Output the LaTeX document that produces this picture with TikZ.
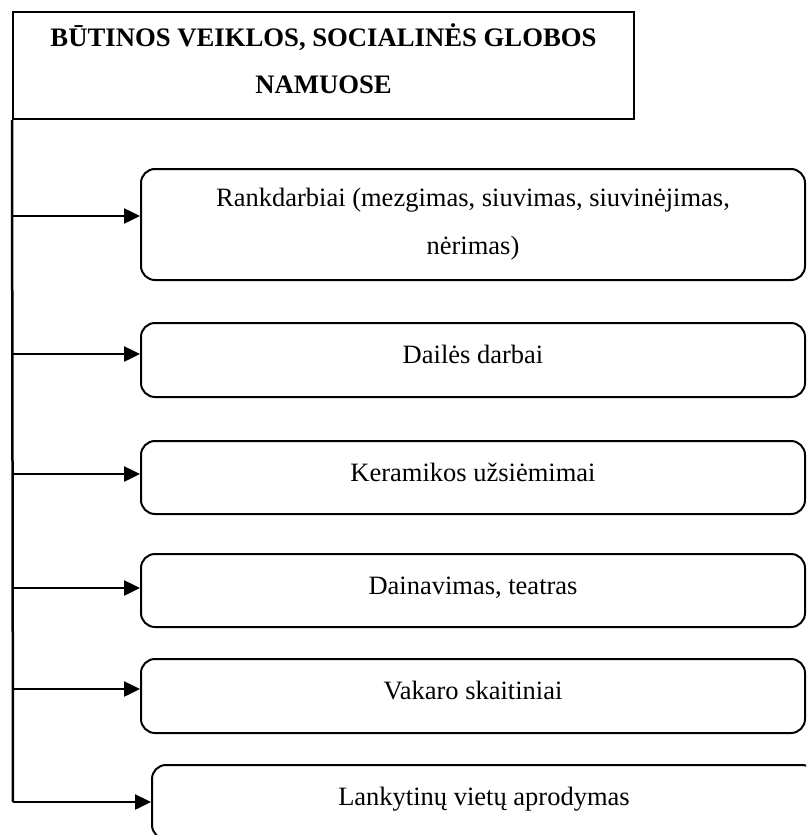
\documentclass[tikz,border=0pt]{standalone}
\usepackage{fontspec}
\setmainfont{Liberation Serif}
\usetikzlibrary{arrows.meta}
\begin{document}
\begin{tikzpicture}[x=1pt,y=-1pt,
  titlebox/.style={draw,line width=2pt,rectangle,minimum width=621pt,minimum height=107pt,align=center,inner sep=0pt,text depth=14pt,font=\fontsize{26.7}{47}\selectfont\bfseries},
  itembox/.style={draw,line width=2pt,rectangle,rounded corners=14pt,minimum width=664pt,align=center,inner sep=0pt,font=\fontsize{26.5}{48}\selectfont},
  oneline/.style={text height=19pt,text depth=12pt},
  trunk/.style={line width=2.5pt},
  arr/.style={line width=2.5pt,-{Triangle[length=16pt,width=15pt]}}]
\useasboundingbox (0,0) rectangle (806,835);
\clip (0,0) rectangle (806,835);
\node[titlebox] (t) at (323.5,65.5) {BŪTINOS VEIKLOS, SOCIALINĖS GLOBOS\\NAMUOSE};
\node[itembox,minimum height=111pt] (b1) at (473,224.5) {Rankdarbiai (mezgimas, siuvimas, siuvinėjimas,\\nėrimas)};
\node[itembox,oneline,minimum height=74pt] (b2) at (473,360) {Dailės darbai};
\node[itembox,oneline,minimum height=73pt] (b3) at (473,477.5) {Keramikos užsiėmimai};
\node[itembox,oneline,minimum height=73pt] (b4) at (473,590.5) {Dainavimas, teatras};
\node[itembox,oneline,minimum height=74pt] (b5) at (473,696) {Vakaro skaitiniai};
\node[itembox,oneline,minimum height=74pt] (b6) at (484,802) {Lankytinų vietų aprodymas};
\coordinate (c1) at (13,216);
\coordinate (c2) at (13,354);
\coordinate (c3) at (13,474);
\coordinate (c4) at (13,588);
\coordinate (c5) at (13,689);
\coordinate (c6) at (13,802);
\draw[trunk] (t.south west) -- (c6);
\draw[arr] (c1) -- (c1 -| b1.west);
\draw[arr] (c2) -- (c2 -| b2.west);
\draw[arr] (c3) -- (c3 -| b3.west);
\draw[arr] (c4) -- (c4 -| b4.west);
\draw[arr] (c5) -- (c5 -| b5.west);
\draw[arr] (c6) -- (c6 -| b6.west);
\end{tikzpicture}
\end{document}
